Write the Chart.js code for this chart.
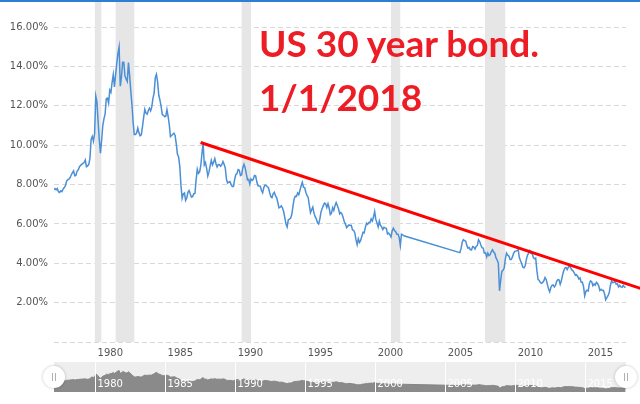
<!DOCTYPE html>
<html>
<head>
<meta charset="utf-8">
<script src="https://cdn.jsdelivr.net/npm/chart.js@4"></script>
<style>
  html, body { margin: 0; padding: 0; background: #fff; }
  #wrap { position: relative; width: 640px; height: 404px; overflow: hidden; }
  #topbar { position: absolute; left: 0; top: 0; width: 640px; height: 2px; background: #2b7fd6; }
  #main { position: absolute; left: 0; top: 0; }
  #nav { position: absolute; left: 0; top: 362px; }
  #note { position: absolute; left: 259px; top: 16px; font: 700 37px/54px Lato, sans-serif; color: #ee1c24; white-space: nowrap; }
</style>
</head>
<body>
<div id="wrap">
  <canvas id="main" width="640" height="362"></canvas>
  <canvas id="nav" width="640" height="42"></canvas>
  <div id="topbar"></div>
  <div id="note">US 30 year bond.<br>1/1/2018</div>
</div>
<script>
// monthly 30y yields, Feb 1977 - Feb 2002
const yieldsA = [
  7.75, 7.80, 7.73, 7.80, 7.64, 7.60, 7.68, 7.64, 7.77, 7.85, 7.94,
  8.18, 8.25, 8.28, 8.36, 8.49, 8.61, 8.70, 8.45, 8.47, 8.69, 8.75, 8.90,
  8.98, 9.03, 9.08, 9.12, 9.25, 8.91, 8.95, 9.03, 9.33, 10.30, 10.45, 10.20,
  10.60, 12.50, 12.20, 11.20, 10.30, 9.60, 10.24, 11.00, 11.34, 11.59, 12.37, 12.40,
  12.14, 12.80, 12.69, 13.20, 13.60, 12.96, 13.59, 14.17, 14.67, 15.00, 13.00, 13.45,
  14.22, 14.22, 13.53, 13.37, 13.24, 14.20, 13.55, 12.77, 12.07, 11.17, 10.54, 10.54,
  10.63, 10.88, 10.63, 10.48, 10.53, 10.93, 11.40, 11.82, 11.63, 11.58, 11.75, 11.88,
  11.75, 11.95, 12.38, 12.65, 13.43, 13.60, 13.21, 12.54, 12.29, 11.98, 11.56, 11.52,
  11.45, 11.47, 11.81, 11.47, 11.05, 10.44, 10.50, 10.56, 10.61, 10.50, 10.06, 9.54,
  9.40, 8.93, 7.96, 7.30, 7.52, 7.57, 7.20, 7.33, 7.62, 7.70, 7.52, 7.37,
  7.39, 7.54, 7.55, 8.25, 8.78, 8.57, 8.64, 8.97, 9.59, 10.10, 9.00, 9.12,
  8.83, 8.43, 8.63, 8.95, 9.23, 9.00, 9.14, 9.32, 9.06, 8.89, 9.02, 9.01,
  8.93, 9.01, 9.17, 9.03, 8.83, 8.27, 8.08, 8.12, 8.15, 8.00, 7.90, 7.90,
  8.26, 8.50, 8.56, 8.76, 8.73, 8.46, 8.50, 8.86, 9.03, 8.86, 8.54, 8.24,
  8.27, 8.03, 8.29, 8.21, 8.27, 8.47, 8.45, 8.14, 7.95, 7.93, 7.92, 7.70,
  7.58, 7.85, 7.97, 7.96, 7.89, 7.84, 7.60, 7.39, 7.34, 7.53, 7.61, 7.44,
  7.34, 7.09, 6.82, 6.85, 6.92, 6.81, 6.63, 6.32, 6.00, 5.85, 6.21, 6.25,
  6.29, 6.49, 6.91, 7.27, 7.41, 7.40, 7.58, 7.49, 7.71, 7.94, 8.12, 7.87,
  7.85, 7.61, 7.45, 7.36, 6.95, 6.57, 6.72, 6.86, 6.55, 6.37, 6.26, 6.06,
  6.00, 6.24, 6.60, 6.79, 6.93, 7.06, 7.03, 6.84, 7.03, 6.81, 6.48, 6.55,
  6.83, 6.69, 6.93, 7.09, 6.94, 6.77, 6.51, 6.58, 6.50, 6.33, 6.11, 5.99,
  5.81, 5.89, 5.95, 5.92, 5.93, 5.70, 5.68, 5.54, 5.20, 4.95, 5.25, 5.06,
  5.16, 5.37, 5.58, 5.55, 5.81, 6.04, 5.98, 6.07, 6.07, 6.26, 6.15, 6.35,
  6.63, 6.23, 6.05, 5.85, 6.15, 5.93, 5.85, 5.72, 5.83, 5.80, 5.78, 5.49,
  5.54, 5.45, 5.34, 5.65, 5.78, 5.67, 5.61, 5.48, 5.48, 5.32, 4.90, 5.48,
  5.45, 5.40
];
// monthly 30y yields, Feb 2006 - Dec 2017 (series was suspended in between)
const yieldsB = [
  4.54, 4.73, 5.06, 5.20, 5.15, 5.13, 4.91, 4.77, 4.80, 4.69, 4.68,
  4.85, 4.82, 4.72, 4.87, 4.90, 5.20, 5.11, 4.93, 4.79, 4.77, 4.52, 4.53,
  4.33, 4.52, 4.39, 4.44, 4.60, 4.69, 4.57, 4.50, 4.27, 4.17, 4.00, 2.60,
  3.13, 3.59, 3.64, 3.76, 4.23, 4.52, 4.41, 4.37, 4.19, 4.19, 4.31, 4.49,
  4.60, 4.62, 4.64, 4.69, 4.29, 4.13, 3.99, 3.80, 3.77, 3.87, 4.19, 4.42,
  4.52, 4.65, 4.51, 4.50, 4.29, 4.23, 4.27, 3.65, 3.18, 3.13, 3.02, 2.98,
  3.03, 3.11, 3.28, 3.18, 2.93, 2.70, 2.55, 2.77, 2.88, 2.90, 2.80, 2.88,
  3.08, 3.17, 3.16, 2.93, 3.11, 3.40, 3.61, 3.76, 3.79, 3.68, 3.80, 3.89,
  3.77, 3.66, 3.62, 3.52, 3.39, 3.42, 3.33, 3.20, 3.26, 3.04, 3.04, 2.83,
  2.35, 2.57, 2.63, 2.59, 2.96, 3.11, 3.07, 2.86, 2.95, 2.89, 3.03, 2.97,
  2.86, 2.62, 2.68, 2.62, 2.63, 2.45, 2.15, 2.26, 2.35, 2.50, 2.86, 3.11,
  3.02, 3.03, 3.08, 2.94, 2.96, 2.80, 2.88, 2.80, 2.78, 2.88, 2.80, 2.77
];
// recession shading, decimal years
const recessions = [[1980.02, 1980.48], [1981.5, 1982.83], [1990.5, 1991.17], [2001.17, 2001.83], [2007.88, 2009.33]];
// hand drawn trend line, from the 1987 peak off the right edge
const trendX = [1987.57, 2019.0];
const trendY = [10.14, 2.72];
const xTicks = [1980, 1985, 1990, 1995, 2000, 2005, 2010, 2015];
const yTicks = [0, 2, 4, 6, 8, 10, 12, 14, 16];
const xMin = 1977.1, xMax = 2017.95, yMax = 17.28;

const toPoints = (vals, y0, m0) => vals.map((v, i) => ({ x: y0 + (m0 - 1 + i) / 12, y: v }));
const series = [...toPoints(yieldsA, 1977, 2), ...toPoints(yieldsB, 2006, 2)];
const trend = trendX.map((x, i) => ({ x, y: trendY[i] }));
const tickFont = { family: 'DejaVu Sans', size: 10 };

const bandsPlugin = {
    id: 'bands',
    beforeDatasetsDraw(chart) {
        const { ctx, chartArea: a, scales: { x } } = chart;
        ctx.save();
        ctx.fillStyle = '#e6e6e6';
        recessions.forEach(([s, e]) => {
            const x0 = x.getPixelForValue(s), x1 = x.getPixelForValue(e);
            ctx.fillRect(x0, a.top, x1 - x0, a.bottom - a.top);
        });
        ctx.restore();
    }
};

new Chart(document.getElementById('main'), {
    type: 'line',
    data: {
        datasets: [
            { data: series, borderColor: '#4b8fd6', borderWidth: 1.5, pointRadius: 0, tension: 0, order: 2 },
            { data: trend, borderColor: '#ff0000', borderWidth: 3, pointRadius: 0, clip: false, order: 1 },
        ]
    },
    options: {
        responsive: false,
        animation: false,
        events: [],
        layout: { padding: { top: 2, right: 14, left: 0, bottom: 0 } },
        plugins: { legend: { display: false }, tooltip: { enabled: false } },
        scales: {
            x: {
                type: 'linear', min: xMin, max: xMax,
                afterBuildTicks: s => { s.ticks = xTicks.map(v => ({ value: v })); },
                afterFit: s => { s.height = 20; s.paddingLeft = 0; s.paddingRight = 0; },
                grid: { display: false },
                border: { display: false },
                ticks: { align: 'start', labelOffset: 3, padding: -3, autoSkip: false, maxRotation: 0,
                    color: '#555', font: tickFont, callback: v => String(v) },
            },
            y: {
                type: 'linear', min: 0, max: yMax,
                afterBuildTicks: s => { s.ticks = yTicks.map(v => ({ value: v })); },
                afterFit: s => { s.width = 54; s.paddingTop = 0; s.paddingBottom = 0; },
                grid: { color: '#d9d9d9', drawTicks: false },
                border: { display: false, dash: [5, 3] },
                ticks: { padding: 6, color: '#555', font: tickFont,
                    callback: v => v === 0 ? '' : v.toFixed(2) + '%' },
            },
        },
    },
    plugins: [bandsPlugin],
});

// navigator strip under the chart
const navPlugin = {
    id: 'nav',
    beforeDraw(chart) {
        const { ctx, chartArea: a } = chart;
        ctx.save();
        ctx.fillStyle = '#eeeeee';
        ctx.fillRect(a.left, a.top, a.right - a.left, a.bottom - a.top);
        ctx.restore();
    },
    afterDatasetsDraw(chart) {
        const { ctx, chartArea: a, scales: { x } } = chart;
        ctx.save();
        ctx.strokeStyle = '#ffffff';
        ctx.fillStyle = '#ffffff';
        ctx.lineWidth = 1;
        ctx.font = '10px "DejaVu Sans"';
        ctx.textBaseline = 'alphabetic';
        xTicks.forEach(t => {
            const px = Math.round(x.getPixelForValue(t)) + 0.5;
            ctx.beginPath();
            ctx.moveTo(px, a.top);
            ctx.lineTo(px, a.bottom);
            ctx.stroke();
            ctx.fillText(String(t), px + 2, a.bottom - 5);
        });
        ctx.restore();
    },
    afterDraw(chart) {
        const { ctx, chartArea: a } = chart;
        const cy = (a.top + a.bottom) / 2;
        [a.left, a.right].forEach(cx => {
            ctx.save();
            ctx.shadowColor = 'rgba(0,0,0,0.25)';
            ctx.shadowBlur = 3;
            ctx.fillStyle = '#ffffff';
            ctx.beginPath();
            ctx.arc(cx, cy, 11, 0, Math.PI * 2);
            ctx.fill();
            ctx.restore();
            ctx.save();
            ctx.strokeStyle = '#b0b0b0';
            ctx.lineWidth = 1;
            ctx.beginPath();
            ctx.moveTo(Math.round(cx) - 1.5, cy - 4);
            ctx.lineTo(Math.round(cx) - 1.5, cy + 4);
            ctx.moveTo(Math.round(cx) + 1.5, cy - 4);
            ctx.lineTo(Math.round(cx) + 1.5, cy + 4);
            ctx.stroke();
            ctx.restore();
        });
    }
};

new Chart(document.getElementById('nav'), {
    type: 'line',
    data: {
        datasets: [{ data: series, borderColor: '#858585', borderWidth: 1, backgroundColor: '#8a8a8a',
            fill: 'origin', pointRadius: 0, tension: 0 }]
    },
    options: {
        responsive: false,
        animation: false,
        events: [],
        layout: { padding: { left: 54, right: 14, top: 0, bottom: 12 } },
        plugins: { legend: { display: false }, tooltip: { enabled: false } },
        scales: {
            x: { type: 'linear', display: false, min: xMin, max: xMax },
            y: { type: 'linear', display: false, min: 0, max: 21 },
        },
    },
    plugins: [navPlugin],
});
</script>
</body>
</html>
